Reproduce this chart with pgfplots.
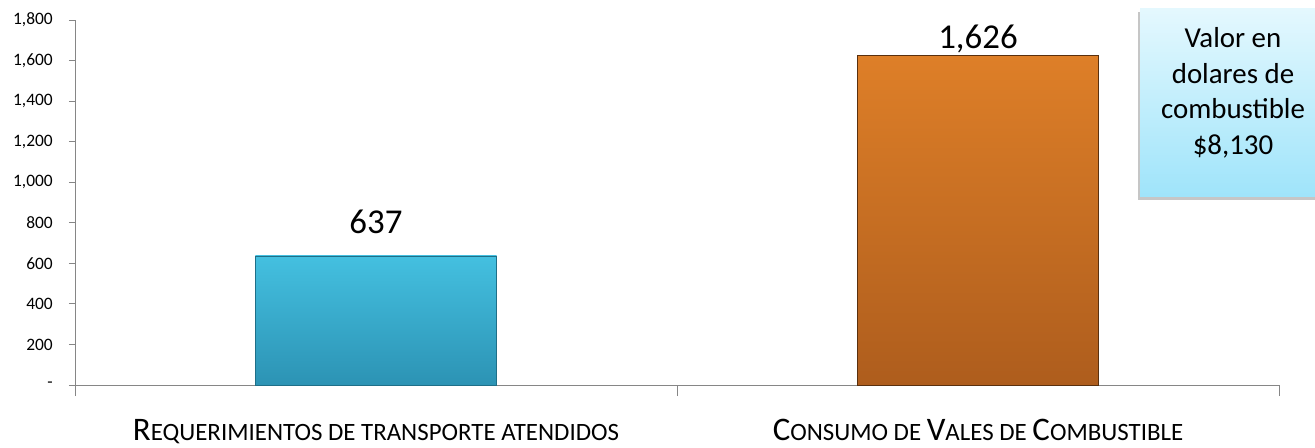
\documentclass[border=0pt]{standalone}
\usepackage{fontspec}
\setmainfont{Carlito}
\usepackage{pgfplots}
\pgfplotsset{compat=1.18}
\usetikzlibrary{shadows}
\definecolor{axisgray}{HTML}{868686}
\definecolor{cyantop}{HTML}{44C0E0}
\definecolor{cyanbot}{HTML}{2C93B4}
\definecolor{cyanedge}{HTML}{1F6F88}
\definecolor{orangetop}{HTML}{DE7F28}
\definecolor{orangebot}{HTML}{AE5D1D}
\definecolor{orangeedge}{HTML}{5A300E}
\definecolor{boxtop}{HTML}{E4F8FE}
\definecolor{boxbot}{HTML}{9FE4FA}
\newcommand\SC[2]{{\fontsize{33}{33}\selectfont #1}{\fontsize{25}{25}\selectfont #2}}
\newcommand\T[1]{{\fontsize{17.5}{17.5}\selectfont #1}}
\begin{document}
\begin{tikzpicture}
\useasboundingbox (-75bp,-63bp) rectangle (1240bp,385bp);
\begin{axis}[
  at={(0,0)}, anchor=south west,
  width=1204bp, height=365bp, scale only axis,
  xmin=-0.5, xmax=1.5, ymin=0, ymax=1800,
  axis lines=left,
  axis line style={draw=axisgray, line width=0.8bp, -},
  xtick={0,1},
  xticklabels={{\SC{R}{EQUERIMIENTOS DE TRANSPORTE ATENDIDOS}},{\SC{C}{ONSUMO DE }\SC{V}{ALES DE }\SC{C}{OMBUSTIBLE}}},
  xtick style={draw=none},
  xticklabel style={anchor=base, yshift=-49bp, inner sep=0pt},
  extra x ticks={-0.5,0.5,1.5},
  extra x tick labels={,,},
  extra x tick style={major tick length=11bp, xtick style={draw=axisgray, line width=0.8bp}},
  ytick={0,200,...,1800},
  yticklabels={\T{-},\T{200},\T{400},\T{600},\T{800},\T{1,000},\T{1,200},\T{1,400},\T{1,600},\T{1,800}},
  yticklabel style={text=black, anchor=east, inner sep=0pt, xshift=-16bp},
  ytick style={draw=axisgray, line width=0.8bp},
  tick align=outside,
  major tick length=6bp,
  point meta=explicit symbolic,
  clip=false,
]
\addplot[ybar, bar width=241bp, bar shift=0pt, draw=cyanedge, line width=0.6bp,
  top color=cyantop, bottom color=cyanbot,
  nodes near coords,
  every node near coord/.style={anchor=base, yshift=22bp, inner sep=0pt, font=\fontsize{35}{35}\selectfont, text=black}]
  coordinates {(0,637) [637]};
\addplot[ybar, bar width=241bp, bar shift=0pt, draw=orangeedge, line width=0.8bp,
  top color=orangetop, bottom color=orangebot,
  nodes near coords,
  every node near coord/.style={anchor=base, yshift=7bp, inner sep=0pt, font=\fontsize{35}{35}\selectfont, text=black}]
  coordinates {(1,1626) [{1,626}]};
\end{axis}
\path[top color=boxtop, bottom color=boxbot,
  drop shadow={shadow xshift=-2bp, shadow yshift=-3bp, opacity=0.45}]
  (1065bp,376bp) rectangle (1245bp,188bp);
\node[anchor=north, inner sep=0pt, align=center, font=\fontsize{29}{36}\selectfont, text=black]
  at (1158bp,358bp) {Valor en\\dolares de\\combustible\\\$8,130};
\end{tikzpicture}
\end{document}
